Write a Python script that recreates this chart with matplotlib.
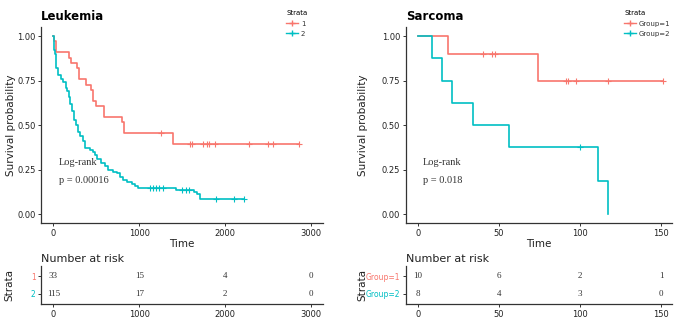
import numpy as np
import matplotlib
matplotlib.use("Agg")
import matplotlib.pyplot as plt
from matplotlib.lines import Line2D

RED = "#F8766D"
TEAL = "#00BFC4"
AX_COL = "#333333"

# Leukemia: step times / survival, censored times
leuk_t1 = [0, 12, 31, 186, 206, 279, 303, 380, 435, 466, 493, 590, 796, 827, 1397]
leuk_s1 = [1.0, 0.970, 0.909, 0.879, 0.848, 0.818, 0.758, 0.727, 0.697, 0.636,
           0.606, 0.545, 0.515, 0.455, 0.394]
leuk_c1 = [1254, 1591, 1610, 1739, 1793, 1816, 1886, 2282, 2495, 2554, 2860]

leuk_t2 = [0, 5, 12, 20, 31, 58, 89, 116, 144, 155, 178, 194, 213, 241, 264, 287,
           310, 341, 372, 427, 458, 485, 512, 555, 601, 640, 699, 737, 776, 815,
           854, 912, 951, 982, 1428, 1638, 1673, 1708]
leuk_s2 = [1.0, 0.96, 0.92, 0.90, 0.82, 0.78, 0.76, 0.74, 0.71, 0.69, 0.66, 0.62,
           0.58, 0.53, 0.50, 0.46, 0.44, 0.41, 0.37, 0.36, 0.35, 0.33, 0.31, 0.29,
           0.27, 0.25, 0.24, 0.23, 0.21, 0.19, 0.18, 0.17, 0.16, 0.148, 0.136,
           0.125, 0.114, 0.084]
leuk_c2 = [1126, 1157, 1191, 1226, 1277, 1498, 1545, 1580, 1890, 2104, 2224]

# Sarcoma
sarc_t1 = [0, 18.9, 74.1]
sarc_s1 = [1.0, 0.9, 0.75]
sarc_c1 = [40.1, 45.7, 47.7, 91.4, 92.6, 97.3, 117.1, 151]

sarc_t2 = [0, 8.8, 14.8, 21.0, 34.0, 56.4, 111.1, 117.1]
sarc_s2 = [1.0, 0.875, 0.75, 0.625, 0.5, 0.375, 0.1875, 0.0]
sarc_c2 = [100.2]

# number at risk tables
leuk_risk_times = [0, 1000, 2000, 3000]
leuk_risk1 = [33, 15, 4, 0]
leuk_risk2 = [115, 17, 2, 0]
sarc_risk_times = [0, 50, 100, 150]
sarc_risk1 = [10, 6, 2, 1]
sarc_risk2 = [8, 4, 3, 0]

W, H = 680, 320
fig = plt.figure(figsize=(6.8, 3.2), dpi=100)


def rect(x0, x1, y0, y1):
    return [x0 / W, 1 - y1 / H, (x1 - x0) / W, (y1 - y0) / H]


def style(ax):
    for s in ["top", "right"]:
        ax.spines[s].set_visible(False)
    for s in ["left", "bottom"]:
        ax.spines[s].set_color(AX_COL)
        ax.spines[s].set_linewidth(0.9)
    ax.tick_params(colors=AX_COL, labelcolor="#222222", labelsize=6,
                   length=2.5, width=0.7, pad=1.5)


def km(ax, t, s, c, color):
    end = max(max(t), max(c))
    ax.step(list(t) + [end], list(s) + [s[-1]], where="post", color=color, lw=1.2)
    idx = np.searchsorted(t, c, side="right") - 1
    cy = np.array(s)[idx]
    ax.plot(c, cy, "+", color=color, ms=4, mew=0.8, ls="none")


panels = [
    dict(name="Leukemia", x0=41.3, x1=323, xlim=(-140, 3140),
         xt=[0, 1000, 2000, 3000],
         g1=(leuk_t1, leuk_s1, leuk_c1), g2=(leuk_t2, leuk_s2, leuk_c2),
         labels=["1", "2"], p="p = 0.00016", lx=0.063, ylx=-0.09,
         rt=leuk_risk_times, r1=leuk_risk1, r2=leuk_risk2, leg_x=287),
    dict(name="Sarcoma", x0=405.7, x1=672, xlim=(-7.4, 156.8),
         xt=[0, 50, 100, 150],
         g1=(sarc_t1, sarc_s1, sarc_c1), g2=(sarc_t2, sarc_s2, sarc_c2),
         labels=["Group=1", "Group=2"], p="p = 0.018", lx=0.065, ylx=-0.14,
         rt=sarc_risk_times, r1=sarc_risk1, r2=sarc_risk2, leg_x=625),
]

for p in panels:
    ax = fig.add_axes(rect(p["x0"], p["x1"], 27.1, 223.2))
    style(ax)
    km(ax, *p["g1"], RED)
    km(ax, *p["g2"], TEAL)
    ax.set_xlim(*p["xlim"])
    ax.set_ylim(-0.05, 1.05)
    ax.set_xticks(p["xt"])
    ax.set_yticks([0, 0.25, 0.5, 0.75, 1.0])
    ax.set_yticklabels(["0.00", "0.25", "0.50", "0.75", "1.00"])
    ax.set_xlabel("Time", fontsize=7.5, labelpad=1, color="#222222")
    ax.set_ylabel("Survival probability", fontsize=7.5, color="#222222")
    ax.yaxis.set_label_coords(p["ylx"], 0.5)
    ax.set_title(p["name"], loc="left", fontsize=8.5, fontweight="bold", pad=5)
    ax.text(p["lx"], 0.312, "Log-rank", transform=ax.transAxes, fontsize=7.5,
            family="Liberation Serif", color="#333333", va="center")
    ax.text(p["lx"], 0.22, p["p"], transform=ax.transAxes, fontsize=7.5,
            family="Liberation Serif", color="#333333", va="center")

    handles = [Line2D([0], [0], color=RED, lw=1, marker="+", ms=4),
               Line2D([0], [0], color=TEAL, lw=1, marker="+", ms=4)]
    leg = ax.legend(handles, p["labels"], title="Strata", loc="upper left",
                    bbox_to_anchor=(p["leg_x"] / W - 0.006, 1 - 7 / H),
                    bbox_transform=fig.transFigure, frameon=False,
                    fontsize=5, title_fontsize=5, handlelength=1.6,
                    handletextpad=0.5, labelspacing=0.6, alignment="left",
                    borderpad=0)
    for txt in leg.get_texts():
        txt.set_color("#333333")

    # risk table
    rx = fig.add_axes(rect(p["x0"], p["x1"], 265.7, 304))
    style(rx)
    rx.set_xlim(*p["xlim"])
    rx.set_ylim(0.4, 2.6)
    rx.set_xticks(p["xt"])
    rx.set_yticks([2, 1])
    rx.set_yticklabels(p["labels"], fontsize=5.5)
    for lab, col in zip(rx.get_yticklabels(), [RED, TEAL]):
        lab.set_color(col)
    for tx, n1, n2 in zip(p["rt"], p["r1"], p["r2"]):
        rx.text(tx, 2, str(n1), ha="center", va="center", fontsize=6.5,
                family="Liberation Serif", color="#333333")
        rx.text(tx, 1, str(n2), ha="center", va="center", fontsize=6.5,
                family="Liberation Serif", color="#333333")
    rx.set_xlabel("Time", fontsize=7.5, labelpad=1, color="#222222")
    rx.set_ylabel("Strata", fontsize=7.5, color="#222222")
    rx.yaxis.set_label_coords(p["ylx"] - 0.005, 0.5)
    rx.set_title("Number at risk", loc="left", fontsize=8, pad=3, color="#222222")

fig.savefig("out.png", dpi=100, facecolor="white")
